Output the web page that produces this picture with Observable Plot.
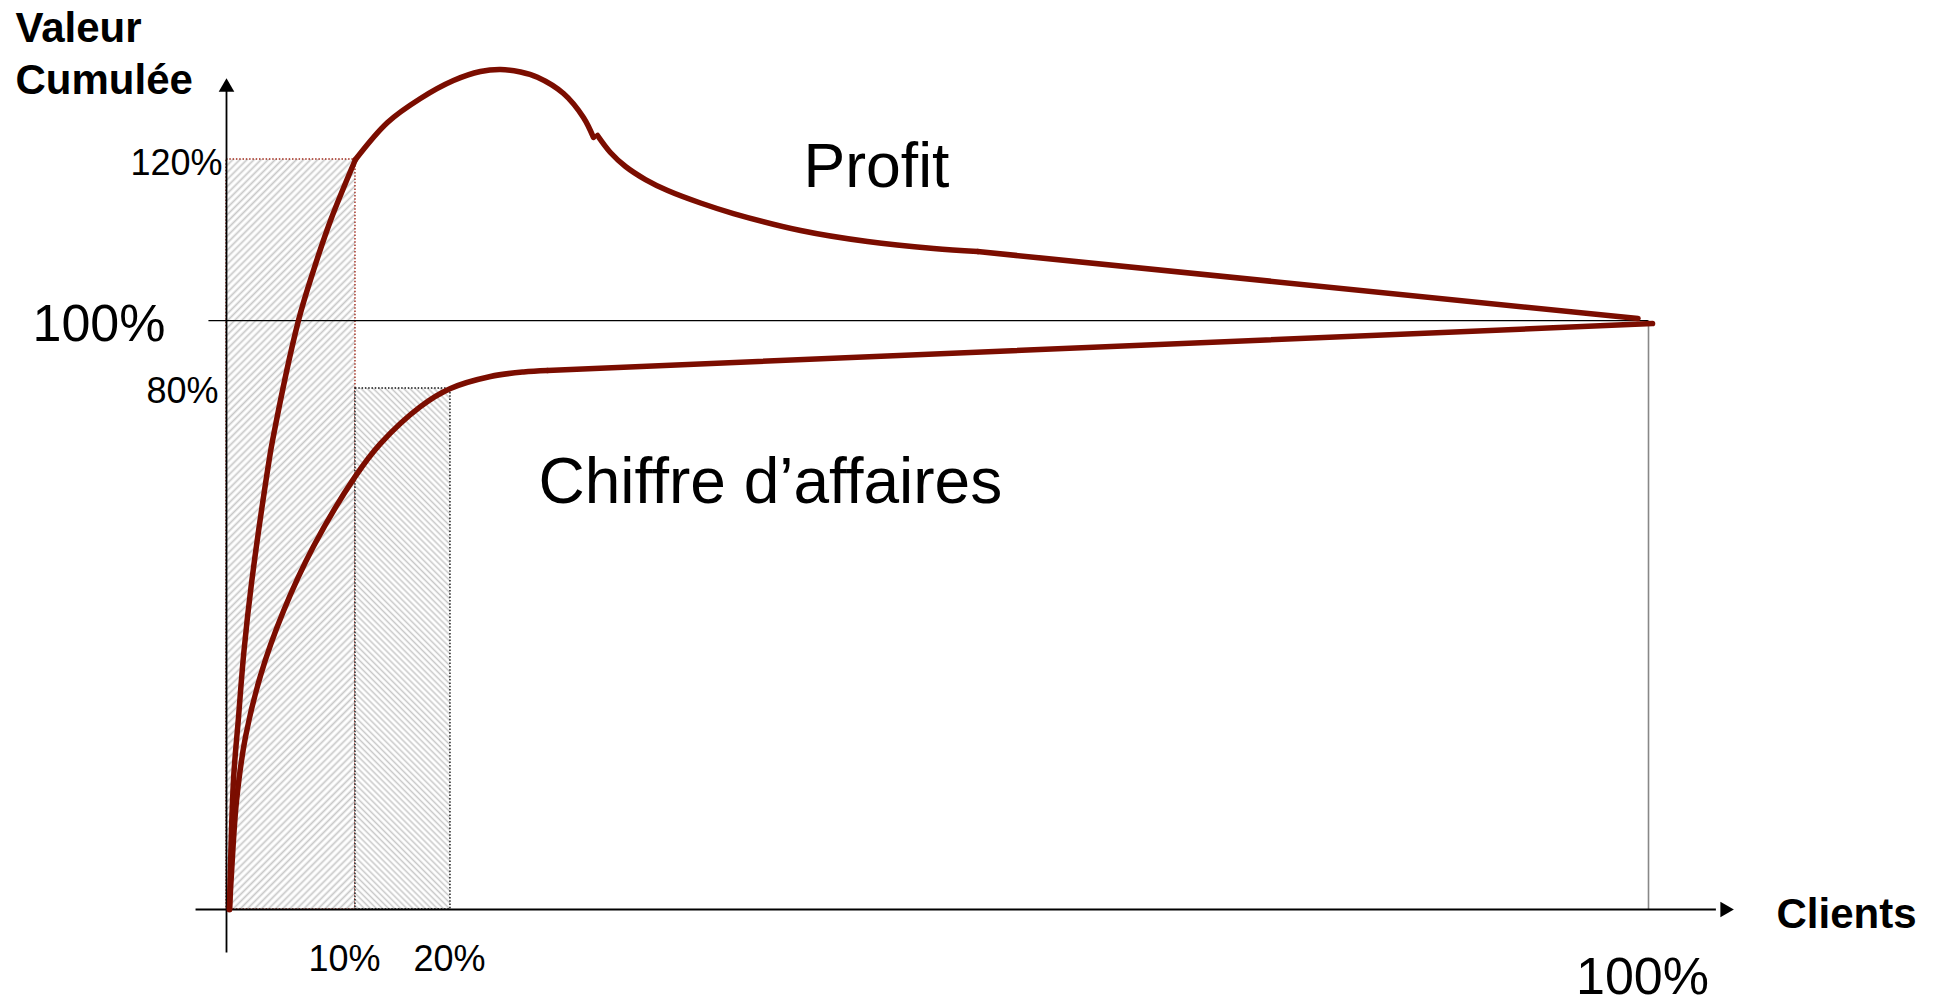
<!DOCTYPE html>
<html>
<head>
<meta charset="utf-8">
<script src="https://cdn.jsdelivr.net/npm/d3@7"></script>
<script src="https://cdn.jsdelivr.net/npm/@observablehq/plot@0.6"></script>
<style>
html, body { margin: 0; padding: 0; background: #ffffff; overflow: hidden; }
</style>
</head>
<body>
<div id="chart"></div>
<script>
// ---------- data (share of clients, cumulated value) ----------
// Profit curve, split in the segments of the original drawing
const profitX = [0.0023, 0.0054, 0.0093, 0.0136, 0.0194, 0.0322, 0.0357, 0.0558, 0.0674, 0.0806, 0.1,
                 0.1, 0.1337, 0.1684, 0.2020, 0.2200, 0.2334, 0.2468, 0.2581, 0.2755, 0.2888, 0.2955,
                 0.2982, 0.3068, 0.3169, 0.3302, 0.3450, 0.3670, 0.3890, 0.4338, 0.4785, 0.5226, 0.5520,
                 0.5520, 0.9930];
const profitY = [0, 0.198, 0.295, 0.398, 0.501, 0.679, 0.720, 1.0, 1.062, 1.124, 1.2,
                 1.2, 1.246, 1.2758, 1.2981, 1.3093, 1.3118, 1.3087, 1.3022, 1.282, 1.2522, 1.2273,
                 1.2298, 1.2087, 1.1913, 1.1751, 1.1615, 1.1460, 1.1329, 1.1118, 1.0981, 1.0894, 1.0857,
                 1.0857, 1.0025];
const profitSeg = [1,1,1,1,1,1,1,1,1,1,1, 2,2,2,2,2,2,2,2,2,2,2, 3,3,3,3,3,3,3,3,3,3,3, 4,4];

// Chiffre d'affaires (turnover) curve
const caX = [0.0023, 0.0039, 0.0078, 0.0147, 0.0264, 0.0442, 0.0674, 0.1, 0.1263, 0.1684, 0.2, 0.2267, 0.2488, 0.2648,
             0.2648, 1.0027];
const caY = [0, 0.0568, 0.1674, 0.2648, 0.3594, 0.4582, 0.5573, 0.6654, 0.7154, 0.7722, 0.8, 0.8353, 0.8488, 0.853,
             0.853, 0.991];
const caSeg = [1,1,1,1,1,1,1,1,1,1,1,1,1,1, 2,2];

// Hatched areas: top 10% of clients (120% of profit), top 20% (80% of turnover)
const areaX1 = [0, 0.1];
const areaX2 = [0.1, 0.2];
const areaY2 = [1.2, 0.8];

// Tick labels (the drawing is schematic: the axes are not proportional)
const xTickValues = [0.1, 0.2, 1.0];
const xTickLabels = ["10%", "20%", "100%"];
const yTickValues = [1.2, 1.0, 0.8];
const yTickLabels = ["120%", "100%", "80%"];
const xAxisStops = [0, 0.1, 0.2, 1];
const xAxisShare = [0, 0.0907, 0.1575, 1];
const yAxisStops = [0, 0.8, 1, 1.2];
const yAxisShare = [0, 0.6947, 0.7853, 1];

// Axis extents
const xAxisFrom = -0.024, xAxisTo = 1.045;
const yAxisFrom = -0.066, yAxisTo = 1.285;
const refLineFrom = -0.014;

// Curve labels
const curveNames = ["Profit", "Chiffre d\u2019affaires"];
const curveLabelX = [0.4378, 0.2588];
const curveLabelY = [1.166, 0.624];

// ---------- build ----------
const xWarp = d3.scaleLinear().domain(xAxisStops).range(xAxisShare);
const yWarp = d3.scaleLinear().domain(yAxisStops).range(yAxisShare);

const profit = profitX.map((x, i) => ({x, y: profitY[i], seg: profitSeg[i]}));
const ca = caX.map((x, i) => ({x, y: caY[i], seg: caSeg[i]}));
const areas = areaX1.map((x1, i) => ({x1, x2: areaX2[i], y1: 0, y2: areaY2[i]}));

const RED = "#7b0d00";
const FONT = "'Liberation Sans', Arial, Helvetica, sans-serif";

function yLabel(i, dx, dy, size) {
  return Plot.text([{x: 0, y: yTickValues[i], t: yTickLabels[i]}], {
    x: "x", y: "y", text: "t", textAnchor: "end", lineAnchor: "bottom",
    dx, dy, fontSize: size, fontFamily: FONT, fill: "black"
  });
}
function xLabel(i, dx, dy, size) {
  return Plot.text([{x: xTickValues[i], y: 0, t: xTickLabels[i]}], {
    x: "x", y: "y", text: "t", textAnchor: "middle", lineAnchor: "bottom",
    dx, dy, fontSize: size, fontFamily: FONT, fill: "black"
  });
}

const svg = Plot.plot({
  width: 1938,
  height: 1002,
  marginLeft: 226, marginRight: 290, marginTop: 159, marginBottom: 93,
  style: {background: "white", fontFamily: FONT, overflow: "visible"},
  x: {type: "linear", transform: xWarp, domain: [0, 1], axis: null},
  y: {type: "linear", transform: yWarp, domain: [0, 1], axis: null},
  marks: [
    // hatched areas
    Plot.rect([areas[0]], {x1: "x1", x2: "x2", y1: "y1", y2: "y2",
      fill: "url(#hatchA)", stroke: "#a0281a", strokeWidth: 1.4, strokeDasharray: "1.5,1.8"}),
    Plot.rect([areas[1]], {x1: "x1", x2: "x2", y1: "y1", y2: "y2",
      fill: "url(#hatchB)", stroke: "#111111", strokeWidth: 1.4, strokeDasharray: "1.5,1.8"}),
    // 100% reference lines
    Plot.link([{x1: refLineFrom, x2: 1, y: 1}], {x1: "x1", x2: "x2", y1: "y", y2: "y", stroke: "black", strokeWidth: 1.3}),
    Plot.link([{x: 1, y1: 0, y2: 1}], {x1: "x", x2: "x", y1: "y1", y2: "y2", stroke: "#888888", strokeWidth: 1.6}),
    // axes
    Plot.link([{x1: xAxisFrom, x2: xAxisTo, y: 0}], {x1: "x1", x2: "x2", y1: "y", y2: "y", stroke: "black", strokeWidth: 1.8}),
    Plot.link([{x: 0, y1: yAxisFrom, y2: yAxisTo}], {x1: "x", x2: "x", y1: "y1", y2: "y2", stroke: "black", strokeWidth: 1.8}),
    Plot.dot([{x: xAxisTo + 0.006, y: 0, a: 90}, {x: 0, y: yAxisTo + 0.0048, a: 0}], {
      x: "x", y: "y", rotate: "a", symbol: "triangle", r: 5.8, fill: "black", stroke: "none"}),
    // curves
    Plot.line(ca, {x: "x", y: "y", z: "seg", stroke: RED, strokeWidth: 5.5, curve: "catmull-rom",
      strokeLinecap: "round", strokeLinejoin: "round"}),
    Plot.line(profit, {x: "x", y: "y", z: "seg", stroke: RED, strokeWidth: 5.5, curve: "catmull-rom",
      strokeLinecap: "round", strokeLinejoin: "round"}),
    // tick labels
    yLabel(0, -4, 15, 36),
    yLabel(1, -61, 20, 52),
    yLabel(2, -8, 15, 36),
    xLabel(0, -11, 61, 36),
    xLabel(1, -1, 61, 36),
    xLabel(2, -6, 84, 52),
    // axis titles
    Plot.text(["Valeur\nCumul\u00e9e"], {frameAnchor: "top-left", text: d => d, textAnchor: "start",
      lineAnchor: "bottom", lineHeight: 1.22, dx: -211, dy: -66, fontSize: 42, fontWeight: "bold", fontFamily: FONT, fill: "black"}),
    Plot.text([{x: 1, y: 0, t: "Clients"}], {x: "x", y: "y", text: "t", textAnchor: "start", lineAnchor: "bottom",
      dx: 128, dy: 18, fontSize: 42, fontWeight: "bold", fontFamily: FONT, fill: "black"}),
    // curve names
    Plot.text([{x: curveLabelX[0], y: curveLabelY[0], t: curveNames[0]}], {
      x: "x", y: "y", text: "t", textAnchor: "start", lineAnchor: "bottom",
      dx: -3, fontSize: 62.5, fontFamily: FONT, fill: "black"}),
    Plot.text([{x: curveLabelX[1], y: curveLabelY[1], t: curveNames[1]}], {
      x: "x", y: "y", text: "t", textAnchor: "start", lineAnchor: "bottom",
      fontSize: 64, fontFamily: FONT, fill: "black"})
  ]
});

// hatch patterns used by the rect fills
const defs = d3.select(svg).insert("defs", ":first-child");
function hatch(id, angle, spacing, color, w) {
  const p = defs.append("pattern").attr("id", id)
    .attr("patternUnits", "userSpaceOnUse")
    .attr("width", spacing).attr("height", spacing)
    .attr("patternTransform", `rotate(${angle})`);
  p.append("rect").attr("width", spacing).attr("height", spacing).attr("fill", "white");
  p.append("line").attr("x1", spacing / 2).attr("y1", -1).attr("x2", spacing / 2).attr("y2", spacing + 1)
    .attr("stroke", color).attr("stroke-width", w);
}
hatch("hatchA", 45, 5.0, "#c8c8c8", 1.7);
hatch("hatchB", -45, 4.3, "#c8c8c8", 1.5);

document.getElementById("chart").appendChild(svg);
</script>
</body>
</html>
